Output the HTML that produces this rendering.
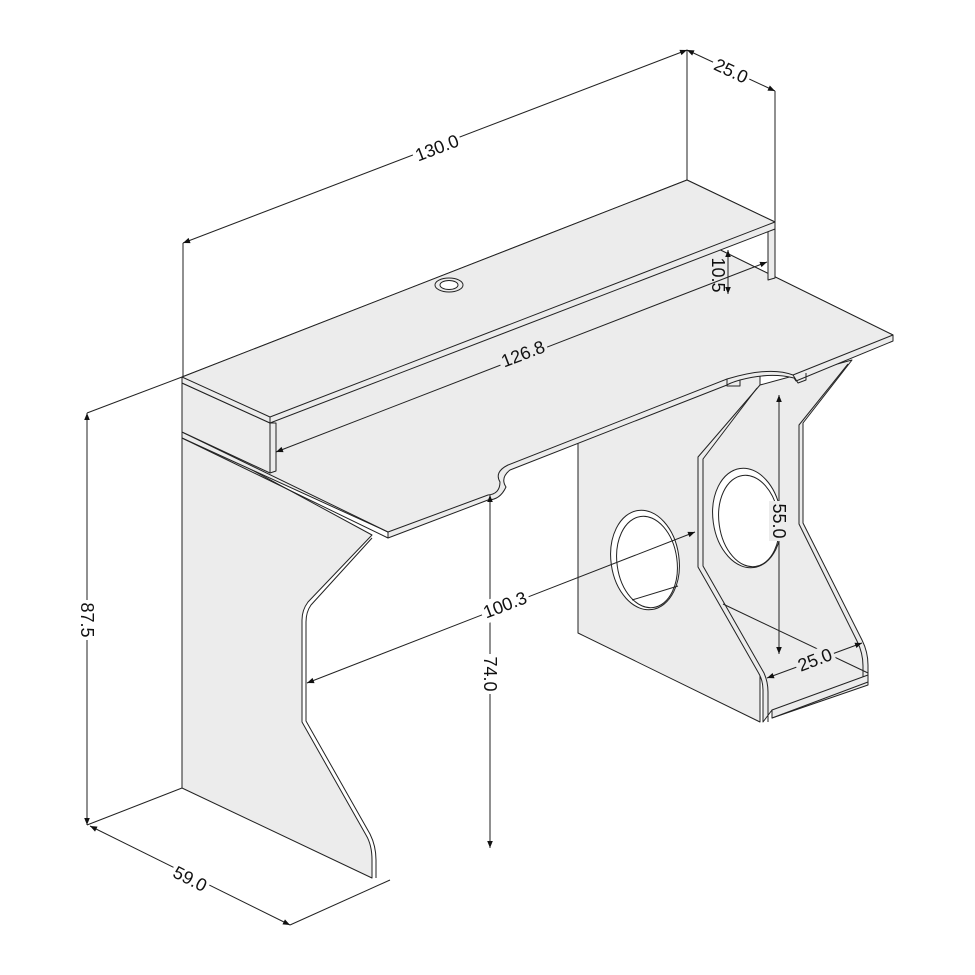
<!DOCTYPE html>
<html><head><meta charset="utf-8"><style>
html,body{margin:0;padding:0;background:#fff;}
svg{display:block;}
text{font-family:"Liberation Sans",sans-serif;font-size:18px;fill:#111;}
</style></head><body>
<svg width="975" height="975" viewBox="0 0 975 975" xmlns="http://www.w3.org/2000/svg">
<defs>
<marker id="a" viewBox="0 0 10 10" refX="10" refY="5" markerWidth="10" markerHeight="7" orient="auto-start-reverse" markerUnits="userSpaceOnUse"><path d="M0,1 L10,5 L0,9 z" fill="#111"/></marker>
</defs>
<g stroke="#222" stroke-width="1" fill="#ececec" stroke-linejoin="round">
<!-- pedestal back panel -->
<path d="M578,400 L760,330 L760,722 L578,633 z"/>
<ellipse cx="645" cy="560" rx="34" ry="50" transform="rotate(-8 645 560)" fill="#fff"/>
<ellipse cx="647" cy="562" rx="30" ry="46" transform="rotate(-8 647 562)" fill="none"/>
<line x1="632" y1="600" x2="678" y2="586"/>
<!-- pedestal side panel -->
<path d="M760,385 L852,360 L803,423 L803,523 L862,640 Q868,652 868,665 L868,685 L772,718 L772,710 L763,722 L763,690 Q763,680 758,672 L698,567 L698,457 z"/>
<path d="M757,388 L703,459 L703,566 L764,673 Q768,682 768,692 L768,722" fill="none"/>
<path d="M848,364 L799,425 L799,524 L857,641 Q863,653 863,666 L863,684" fill="none"/>
<ellipse cx="747" cy="518" rx="34" ry="50" transform="rotate(-8 747 518)" fill="#fff"/>
<ellipse cx="749" cy="521" rx="30" ry="46" transform="rotate(-8 749 521)" fill="none"/>
<line x1="723" y1="604" x2="868" y2="673"/>
<path d="M772,710 L868,675 L868,682 L772,718 z"/>
<!-- left side panel -->
<path d="M182,377 L182,788 L372,878 L372,860 Q372,845 366,835 L302,722 L302,620 Q302,610 308,602 L372,535 L182,432 z"/>
<path d="M372,538 L311,605 Q306,612 306,622 L306,721 L370,834 Q376,846 376,860 L376,878" fill="none"/>
<!-- desk top -->
<path d="M182,438 L182,432 L690,235 L893,335 L893,341 L796,381 L794,378 Q770,372 740,380 Q730,383 727,385 L510,470 Q500,478 506,487 Q500,500 488,500 L388,538 L388,532 z"/>
<path d="M182,432 L690,235 L893,335 L793,375 Q770,366 727,379 L508,465 Q494,472 500,482 Q500,494 488,495 L388,532 z"/>
<line x1="182" y1="438" x2="388" y2="538"/>
<path d="M727,379 L727,386 L740,386 L740,380" fill="none"/>
<path d="M793,375 L798,383 L806,380 L806,373" fill="none"/>
<!-- hutch legs -->
<path d="M270,423 L276,423 L276,471 L270,473 z"/>
<path d="M768,231 L775,229 L775,278 L768,280 z"/>
<path d="M182,383 L270,423 L270,473 L182,432 z"/>
<!-- hutch top -->
<path d="M182,377 L687,180 L775,222 L775,229 L270,423 L182,383 z"/>
<path d="M182,377 L687,180 L775,222 L270,417 z"/>
<line x1="270" y1="417" x2="270" y2="423"/>
<!-- grommet -->
<ellipse cx="449" cy="285" rx="14" ry="7" fill="#ececec"/>
<ellipse cx="449" cy="285" rx="9" ry="4.5" fill="#fff"/>
</g>
<g stroke="#222" stroke-width="1" fill="none">
<line x1="183" y1="243" x2="183" y2="377"/>
<line x1="687" y1="50" x2="687" y2="180"/>
<line x1="775" y1="91" x2="775" y2="222"/>
<line x1="87" y1="413" x2="182" y2="377"/>
<line x1="87" y1="825" x2="182" y2="788"/>
<line x1="290" y1="925" x2="390" y2="880"/>
<line x1="183" y1="243" x2="687" y2="50" marker-start="url(#a)" marker-end="url(#a)"/>
<line x1="687" y1="50" x2="775" y2="91" marker-start="url(#a)" marker-end="url(#a)"/>
<line x1="276" y1="452" x2="767" y2="262" marker-start="url(#a)" marker-end="url(#a)"/>
<line x1="728" y1="250" x2="728" y2="294" marker-start="url(#a)" marker-end="url(#a)"/>
<line x1="307" y1="683" x2="695" y2="532" marker-start="url(#a)" marker-end="url(#a)"/>
<line x1="490" y1="495" x2="490" y2="848" marker-start="url(#a)" marker-end="url(#a)"/>
<line x1="779" y1="395" x2="779" y2="654" marker-start="url(#a)" marker-end="url(#a)"/>
<line x1="767" y1="678" x2="862" y2="643" marker-start="url(#a)" marker-end="url(#a)"/>
<line x1="87" y1="413" x2="87" y2="825" marker-start="url(#a)" marker-end="url(#a)"/>
<line x1="90" y1="826" x2="290" y2="925" marker-start="url(#a)" marker-end="url(#a)"/>
</g>
<g>
<rect x="412" y="136" width="50" height="22" fill="#fff" transform="rotate(-21 437 148)"/>
<text x="437" y="154" text-anchor="middle" transform="rotate(-21 437 148)">130.0</text>
<rect x="711" y="61" width="40" height="20" fill="#fff" transform="rotate(25 731 71)"/>
<text x="731" y="77" text-anchor="middle" transform="rotate(25 731 71)">25.0</text>
<text x="718" y="281" text-anchor="middle" transform="rotate(90 718 275)">10.5</text>
<rect x="498" y="343" width="50" height="22" fill="#ececec" stroke="none" transform="rotate(-21 523 354)"/>
<text x="523" y="360" text-anchor="middle" transform="rotate(-21 523 354)">126.8</text>
<rect x="480" y="594" width="50" height="22" fill="#fff" transform="rotate(-21 505 605)"/>
<text x="505" y="611" text-anchor="middle" transform="rotate(-21 505 605)">100.3</text>
<rect x="470" y="664" width="40" height="20" fill="#fff" transform="rotate(90 490 674)"/>
<text x="490" y="680" text-anchor="middle" transform="rotate(90 490 674)">74.0</text>
<rect x="759" y="511" width="40" height="20" fill="#ececec" transform="rotate(90 779 521)"/>
<text x="779" y="527" text-anchor="middle" transform="rotate(90 779 521)">55.0</text>
<rect x="795" y="650" width="40" height="20" fill="#ececec" transform="rotate(-21 815 660)"/>
<text x="815" y="666" text-anchor="middle" transform="rotate(-21 815 660)">25.0</text>
<rect x="67" y="610" width="40" height="20" fill="#fff" transform="rotate(90 87 620)"/>
<text x="87" y="626" text-anchor="middle" transform="rotate(90 87 620)">87.5</text>
<rect x="170" y="869" width="40" height="20" fill="#fff" transform="rotate(27 190 879)"/>
<text x="190" y="885" text-anchor="middle" transform="rotate(27 190 879)">59.0</text>
</g>
</svg>
</body></html>
